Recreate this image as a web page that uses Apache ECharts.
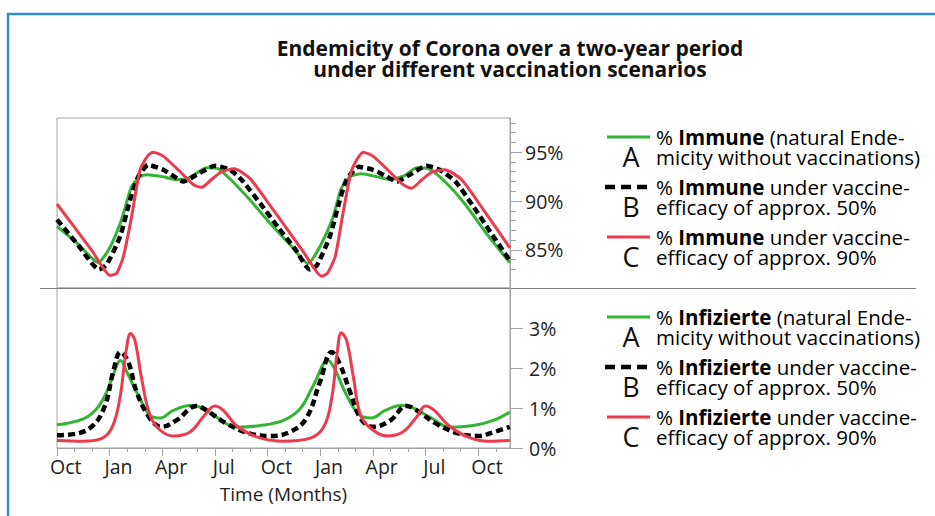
<!DOCTYPE html>
<html>
<head>
<meta charset="utf-8">
<script src="https://cdn.jsdelivr.net/npm/echarts@6/dist/echarts.min.js"></script>
<style>
html,body{margin:0;padding:0;background:#fff;}
#chart{width:935px;height:516px;}
</style>
</head>
<body>
<div id="chart"></div>
<script>
// ---------- DATA ----------
// x = months since 1 October (start of the period), y = percent
const monthLabels = ['Oct', 'Jan', 'Apr', 'Jul', 'Oct', 'Jan', 'Apr', 'Jul', 'Oct'];
const immuneTicks = [85, 90, 95];
const infectedTicks = [0, 1, 2, 3];

const immuneA = [[0,87.4],[1.2,85.6],[2.35,83.7],[3.0,85.2],[3.68,88.1],[4.25,91.5],[4.73,92.5],[5.1,92.7],[6.0,92.5],[6.8,92.2],[7.4,92.3],[8.0,92.9],[8.5,93.4],[9.2,93.3],[9.95,92.1],[11.0,90.1],[12.2,87.6],[13.3,85.5],[14.3,83.6],[15.0,85.4],[15.7,88.2],[16.2,91.3],[16.7,92.5],[17.36,92.8],[18.2,92.5],[19.0,92.2],[19.8,92.6],[20.5,93.4],[21.2,93.3],[22.1,92.0],[23.2,89.8],[24.5,86.6],[25.8,83.7]];
const immuneB = [[0,88.1],[1.2,85.5],[2.4,83.0],[2.83,83.5],[3.6,86.4],[4.16,90.1],[4.63,92.5],[5.2,93.7],[6.05,93.2],[6.6,92.6],[7.2,92.0],[7.96,92.7],[9.0,93.6],[9.86,93.2],[10.6,92.0],[11.6,89.7],[12.6,87.3],[13.6,85.0],[14.4,83.0],[14.8,83.4],[15.55,86.4],[16.1,90.0],[16.5,92.2],[17.2,93.5],[18.0,93.2],[18.7,92.6],[19.35,92.0],[20.1,92.7],[21.06,93.6],[21.8,93.2],[22.7,92.0],[23.7,89.5],[24.7,86.8],[25.8,83.9]];
const immuneC = [[0,89.7],[1.0,87.3],[2.0,84.9],[3.02,82.4],[3.4,82.6],[3.78,84.3],[4.25,88.4],[4.73,93.2],[5.2,94.7],[5.49,95.0],[6.05,94.6],[6.9,93.2],[7.76,91.7],[8.24,91.4],[8.8,92.2],[9.38,93.0],[10.1,93.3],[11.0,92.3],[12.0,89.9],[13.0,87.4],[14.0,84.9],[15.08,82.3],[15.4,82.6],[15.85,84.3],[16.3,88.8],[16.8,93.2],[17.45,95.0],[18.0,94.6],[18.9,93.1],[19.7,91.7],[20.2,91.3],[20.8,92.2],[21.4,93.0],[22.1,93.2],[23.05,92.2],[24.3,89.1],[25.0,87.3],[25.8,85.2]];

const infectedA = [[0,0.58],[1.5,0.73],[2.26,0.98],[2.83,1.40],[3.2,1.82],[3.62,2.19],[3.98,1.90],[4.63,1.32],[5.3,0.82],[5.87,0.75],[6.63,0.94],[7.58,1.06],[8.15,1.02],[9.1,0.77],[10.2,0.52],[11.57,0.56],[12.9,0.69],[13.85,0.98],[14.6,1.56],[15.45,2.19],[15.85,1.95],[16.5,1.32],[17.25,0.82],[17.9,0.75],[18.7,0.94],[19.6,1.06],[20.2,1.02],[21.25,0.77],[22.4,0.52],[23.7,0.56],[24.86,0.69],[25.8,0.90]];
const infectedB = [[0,0.32],[1.12,0.36],[2.07,0.57],[2.74,1.07],[3.2,1.90],[3.62,2.40],[4.06,2.15],[4.54,1.40],[5.3,0.74],[5.96,0.53],[6.8,0.69],[7.96,1.05],[8.52,0.94],[9.66,0.61],[11.0,0.36],[12.1,0.30],[13.27,0.40],[14.2,0.74],[14.98,1.65],[15.65,2.40],[16.1,2.11],[16.7,1.40],[17.3,0.74],[18.0,0.53],[19.0,0.69],[19.9,1.05],[20.5,0.94],[21.6,0.61],[22.9,0.36],[24.0,0.30],[24.9,0.40],[25.8,0.53]];
const infectedC = [[0,0.19],[1.5,0.17],[2.45,0.22],[3.11,0.49],[3.58,1.24],[3.93,2.40],[4.2,2.86],[4.44,2.69],[4.82,1.74],[5.3,0.82],[5.87,0.45],[6.63,0.30],[7.58,0.40],[8.34,0.78],[9.0,1.05],[9.48,0.94],[10.2,0.57],[11.38,0.28],[12.9,0.17],[14.4,0.24],[15.2,0.53],[15.65,1.24],[15.97,2.40],[16.2,2.88],[16.5,2.69],[16.9,1.74],[17.3,0.82],[18.0,0.45],[18.8,0.30],[19.7,0.40],[20.5,0.78],[21.0,1.05],[21.5,0.94],[22.3,0.57],[23.4,0.28],[24.6,0.17],[25.8,0.19]];

// ---------- STYLES / LAYOUT ----------
const FONT = 'Open Sans';
const GREEN = '#34b434', RED = '#ec3a4e', BLACK = '#000000';
const GREY = '#a3a3a3';
const XMIN = 0, XMAX = 25.81;
const Y1MIN = 81.1, Y1MAX = 98.5, Y2MIN = 0, Y2MAX = 4;

const quarterTicks = monthLabels.map((_, i) => i * 3);
const quarterLabelPos = monthLabels.map((_, i) => i * 3 + 0.5);
const monthTicks = [];
for (let m = 1; m <= 25; m++) if (m % 3 !== 0) monthTicks.push(m);
const minorImmune = [];
for (let v = 83; v <= 98; v++) if (immuneTicks.indexOf(v) < 0) minorImmune.push(v);

const chart = echarts.init(document.getElementById('chart'), null, {renderer: 'svg'});

const lineStyles = {
  A: {color: GREEN, width: 3, type: 'solid'},
  B: {color: BLACK, width: 4.5, type: [7, 4]},
  C: {color: RED, width: 3, type: 'solid'}
};
function mkSeries(name, data, key, xi, yi, smooth) {
  return {
    name: name, type: 'line', data: data, xAxisIndex: xi, yAxisIndex: yi,
    showSymbol: false, smooth: smooth, silent: true,
    lineStyle: Object.assign({cap: 'butt', join: 'round'}, lineStyles[key]),
    itemStyle: {color: lineStyles[key].color}, animation: false
  };
}

// legend (drawn as graphic)
const legendBlocks = [
  {word: 'Immune', top: 137},
  {word: 'Infizierte', top: 317}
];
const legendRest = [
  [' (natural Ende-', 'micity without vaccinations)'],
  [' under vaccine-', 'efficacy of approx. 50%'],
  [' under vaccine-', 'efficacy of approx. 90%']
];
const letters = ['A', 'B', 'C'];
const keys = ['A', 'B', 'C'];
const graphics = [];
// blue frame
graphics.push({type: 'rect', shape: {x: 8, y: 14, width: 1000, height: 600},
  style: {fill: 'none', stroke: '#2e8ddb', lineWidth: 2.5}, silent: true});
// separator between both panels
graphics.push({type: 'line', shape: {x1: 40, y1: 288.5, x2: 916, y2: 288.5},
  style: {stroke: '#7d7d7d', lineWidth: 1}, silent: true});
legendBlocks.forEach(b => {
  legendRest.forEach((r, i) => {
    const cy = b.top + i * 50;
    const st = lineStyles[keys[i]];
    graphics.push({type: 'line', shape: {x1: keys[i] === 'B' ? 605 : 607, y1: cy, x2: 650, y2: cy},
      style: {stroke: st.color, lineWidth: keys[i] === 'B' ? 4.5 : 3, lineDash: keys[i] === 'B' ? [10, 6] : null}, silent: true});
    graphics.push({type: 'text', x: 631, y: cy + 19, silent: true,
      style: {text: letters[i], fill: '#111', font: '27px "' + FONT + '"', align: 'center', verticalAlign: 'middle'}});
    graphics.push({type: 'text', x: 656, y: cy - 10, silent: true,
      style: {
        text: '{n|% }{b|' + b.word + '}{n|' + r[0] + '}\n{n|' + r[1] + '}',
        align: 'left', verticalAlign: 'top',
        rich: {
          n: {fontFamily: FONT, fontSize: 20.5, color: '#1a1a1a', lineHeight: 20},
          b: {fontFamily: FONT, fontSize: 20.5, fontWeight: 'bold', color: '#1a1a1a', lineHeight: 20}
        }
      }});
  });
});

const axisLbl = {fontFamily: FONT, fontSize: 19.5, color: '#222'};

const option = {
  animation: false,
  backgroundColor: '#ffffff',
  title: {
    text: 'Endemicity of Corona over a two-year period\nunder different vaccination scenarios',
    left: 510, top: 37, textAlign: 'center', padding: 0,
    textStyle: {fontFamily: FONT, fontSize: 21, fontWeight: 'bold', color: '#111', lineHeight: 21, align: 'center'}
  },
  grid: [
    {left: 57, right: 425, top: 118, height: 170, show: true, borderColor: GREY, borderWidth: 1, containLabel: false},
    {left: 57, right: 425, top: 288, height: 160, show: true, borderColor: GREY, borderWidth: 1, containLabel: false}
  ],
  xAxis: [
    {gridIndex: 0, type: 'value', min: XMIN, max: XMAX, show: false},
    {gridIndex: 1, type: 'value', min: XMIN, max: XMAX, position: 'bottom',
      axisLine: {show: true, onZero: false, lineStyle: {color: GREY}},
      axisTick: {show: true, length: 4, customValues: monthTicks, lineStyle: {color: GREY}},
      axisLabel: {show: false}, splitLine: {show: false},
      name: 'Time (Months)', nameLocation: 'middle', nameGap: 36,
      nameTextStyle: {fontFamily: FONT, fontSize: 19, color: '#222'}},
    {gridIndex: 1, type: 'value', min: XMIN, max: XMAX, position: 'bottom',
      axisLine: {show: false, onZero: false},
      axisTick: {show: true, length: 8, customValues: quarterTicks, lineStyle: {color: GREY}},
      axisLabel: Object.assign({show: true, margin: 8, customValues: quarterLabelPos,
        formatter: v => monthLabels[Math.round((v - 0.5) / 3)] || ''}, axisLbl),
      splitLine: {show: false}}
  ],
  yAxis: [
    {gridIndex: 0, type: 'value', position: 'right', min: Y1MIN, max: Y1MAX,
      axisLine: {show: true, onZero: false, lineStyle: {color: GREY}},
      axisTick: {show: true, length: 12, customValues: immuneTicks, lineStyle: {color: GREY}},
      axisLabel: Object.assign({margin: 15, customValues: immuneTicks, formatter: v => v + '%'}, axisLbl),
      splitLine: {show: false}},
    {gridIndex: 0, type: 'value', position: 'right', min: Y1MIN, max: Y1MAX,
      axisLine: {show: false, onZero: false},
      axisTick: {show: true, length: 6, customValues: minorImmune, lineStyle: {color: GREY}},
      axisLabel: {show: false}, splitLine: {show: false}},
    {gridIndex: 1, type: 'value', position: 'right', min: Y2MIN, max: Y2MAX,
      axisLine: {show: true, onZero: false, lineStyle: {color: GREY}},
      axisTick: {show: true, length: 13, customValues: infectedTicks, lineStyle: {color: GREY}},
      axisLabel: Object.assign({margin: 19, customValues: infectedTicks, formatter: v => v + '%'}, axisLbl),
      splitLine: {show: false}}
  ],
  series: [
    mkSeries('% Immune A', immuneA, 'A', 0, 0, 0.2),
    mkSeries('% Immune B', immuneB, 'B', 0, 0, 0.2),
    mkSeries('% Immune C', immuneC, 'C', 0, 0, 0.2),
    mkSeries('% Infizierte A', infectedA, 'A', 1, 2, 0.4),
    mkSeries('% Infizierte B', infectedB, 'B', 1, 2, 0.4),
    mkSeries('% Infizierte C', infectedC, 'C', 1, 2, 0.4)
  ],
  graphic: graphics
};
chart.setOption(option);
</script>
</body>
</html>
